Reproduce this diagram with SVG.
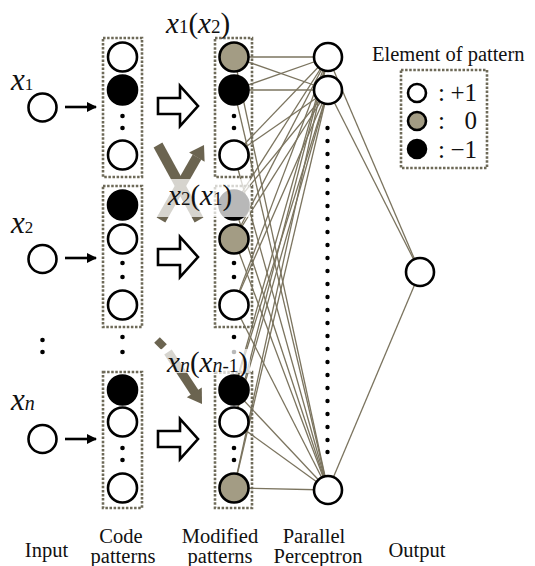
<svg xmlns="http://www.w3.org/2000/svg" width="535" height="566" viewBox="0 0 535 566">
<style>
text{font-family:"Liberation Serif","Times New Roman",serif;fill:#111}
.lbl{font-size:20.5px}
.it{font-style:italic}
.n{stroke:#000;stroke-width:2.6}
.w{fill:#fff}
.b{fill:#000}
.g{fill:#a39c84}
.box{fill:none;stroke:#6e6a58;stroke-width:2.6;stroke-dasharray:2.5 1.6}
.dot{fill:#000}
.conn line{stroke:#7b745f;stroke-width:1.3}
.harrow{fill:#fff;stroke:#000;stroke-width:2.6;stroke-linejoin:miter}
.swap{stroke:#6b6450;fill:none}
.veil{fill:#fff;fill-opacity:0.72}
</style>
<defs>
<marker id="ah" markerWidth="10" markerHeight="10" refX="9" refY="5" orient="auto" markerUnits="userSpaceOnUse"><path d="M0,0 L10,5 L0,10 z" fill="#000"/></marker>
<polygon id="hollow" points="0,-8 22,-8 22,-20 40,0 22,20 22,8 0,8" class="harrow"/>
</defs>

<!-- connectors -->
<g id="connectors" class="conn">
<line x1="234" y1="57" x2="328" y2="57"/><line x1="234" y1="57" x2="328" y2="90"/><line x1="234" y1="57" x2="328" y2="490"/>
<line x1="234" y1="90" x2="328" y2="57"/><line x1="234" y1="90" x2="328" y2="90"/><line x1="234" y1="90" x2="328" y2="490"/>
<line x1="234" y1="155" x2="328" y2="57"/><line x1="234" y1="155" x2="328" y2="90"/><line x1="234" y1="155" x2="328" y2="490"/>
<line x1="234" y1="205" x2="328" y2="57"/><line x1="234" y1="205" x2="328" y2="90"/><line x1="234" y1="205" x2="328" y2="490"/>
<line x1="234" y1="239" x2="328" y2="57"/><line x1="234" y1="239" x2="328" y2="90"/><line x1="234" y1="239" x2="328" y2="490"/>
<line x1="234" y1="305" x2="328" y2="57"/><line x1="234" y1="305" x2="328" y2="90"/><line x1="234" y1="305" x2="328" y2="490"/>
<line x1="234" y1="390" x2="328" y2="57"/><line x1="234" y1="390" x2="328" y2="90"/><line x1="234" y1="390" x2="328" y2="490"/>
<line x1="234" y1="422" x2="328" y2="57"/><line x1="234" y1="422" x2="328" y2="90"/><line x1="234" y1="422" x2="328" y2="490"/>
<line x1="234" y1="488" x2="328" y2="57"/><line x1="234" y1="488" x2="328" y2="90"/><line x1="234" y1="488" x2="328" y2="490"/>
<line x1="328" y1="57" x2="420" y2="272"/><line x1="328" y1="90" x2="420" y2="272"/><line x1="328" y1="490" x2="420" y2="272"/>
<!-- input arrows -->
<line x1="65" y1="107" x2="96" y2="107" style="stroke:#000;stroke-width:2.6" marker-end="url(#ah)"/>
<line x1="65" y1="258" x2="96" y2="258" style="stroke:#000;stroke-width:2.6" marker-end="url(#ah)"/>
<line x1="65" y1="439" x2="96" y2="439" style="stroke:#000;stroke-width:2.6" marker-end="url(#ah)"/>
</g>

<!-- inputs -->
<g id="input1"><circle cx="42.5" cy="107.5" r="14" class="n w"/><text x="11" y="90" font-size="31" class="it">x<tspan font-size="17" font-style="normal">1</tspan></text></g>
<g id="input2"><circle cx="42.5" cy="259" r="14" class="n w"/><text x="11" y="233" font-size="31" class="it">x<tspan font-size="17" font-style="normal">2</tspan></text></g>
<g id="inputn"><circle cx="42.5" cy="439" r="14" class="n w"/><text x="11" y="410" font-size="31" class="it">x<tspan font-size="20">n</tspan></text></g>
<g id="inputdots"><circle cx="42.5" cy="340" r="2.3" class="dot"/><circle cx="42.5" cy="352" r="2.3" class="dot"/></g>

<!-- code patterns -->
<g id="code1"><rect x="103" y="38" width="39" height="139" class="box"/>
<circle cx="122.5" cy="57" r="14.5" class="n w"/><circle cx="122.5" cy="90" r="14.5" class="n b"/>
<circle cx="122.5" cy="116" r="2.3" class="dot"/><circle cx="122.5" cy="128" r="2.3" class="dot"/>
<circle cx="122.5" cy="155" r="14.5" class="n w"/></g>
<g id="code2"><rect x="103" y="186" width="39" height="141" class="box"/>
<circle cx="122.5" cy="205" r="14.5" class="n b"/><circle cx="122.5" cy="239" r="14.5" class="n w"/>
<circle cx="122.5" cy="263" r="2.3" class="dot"/><circle cx="122.5" cy="277" r="2.3" class="dot"/>
<circle cx="122.5" cy="305" r="14.5" class="n w"/></g>
<g id="codedots"><circle cx="122.5" cy="337" r="2.3" class="dot"/><circle cx="122.5" cy="352" r="2.3" class="dot"/></g>
<g id="code3"><rect x="103" y="372" width="39" height="136" class="box"/>
<circle cx="122.5" cy="390" r="14.5" class="n b"/><circle cx="122.5" cy="422" r="14.5" class="n w"/>
<circle cx="122.5" cy="448" r="2.3" class="dot"/><circle cx="122.5" cy="460" r="2.3" class="dot"/>
<circle cx="122.5" cy="488" r="14.5" class="n w"/></g>

<!-- hollow arrows -->
<g id="harrows"><use href="#hollow" x="158" y="106"/><use href="#hollow" x="158" y="257"/><use href="#hollow" x="158" y="439"/></g>

<!-- modified patterns -->
<g id="mod1"><rect x="215" y="38" width="37" height="139" class="box"/>
<circle cx="234" cy="57" r="14.5" class="n g"/><circle cx="234" cy="90" r="14.5" class="n b"/>
<circle cx="234" cy="116" r="2.3" class="dot"/><circle cx="234" cy="128" r="2.3" class="dot"/>
<circle cx="234" cy="155" r="14.5" class="n w"/></g>
<g id="mod2"><rect x="215" y="186" width="37" height="141" class="box"/>
<circle cx="234" cy="205" r="14.5" class="n b"/><circle cx="234" cy="239" r="14.5" class="n g"/>
<circle cx="234" cy="263" r="2.3" class="dot"/><circle cx="234" cy="277" r="2.3" class="dot"/>
<circle cx="234" cy="305" r="14.5" class="n w"/></g>
<g id="moddots"><circle cx="234" cy="337" r="2.3" class="dot"/><circle cx="234" cy="352" r="2.3" class="dot"/></g>
<g id="mod3"><rect x="215" y="372" width="37" height="136" class="box"/>
<circle cx="234" cy="390" r="14.5" class="n b"/><circle cx="234" cy="422" r="14.5" class="n w"/>
<circle cx="234" cy="448" r="2.3" class="dot"/><circle cx="234" cy="460" r="2.3" class="dot"/>
<circle cx="234" cy="488" r="14.5" class="n g"/></g>

<!-- swap arrows -->
<g id="swap12">
<line x1="158" y1="145" x2="199" y2="220" class="swap" stroke-width="10"/>
<line x1="161" y1="220" x2="197" y2="157" class="swap" stroke-width="10"/>
<polygon points="204,145 204.6,161.7 189.1,152.5" fill="#6b6450"/>
<rect x="150" y="179" width="100" height="38" class="veil"/>
<text x="168" y="205" font-size="29"><tspan class="it">x</tspan><tspan font-size="19">2</tspan>(<tspan class="it">x</tspan><tspan font-size="19">1</tspan>)</text>
</g>
<g id="swapn">
<line x1="157" y1="340" x2="164" y2="347" class="swap" stroke-width="8"/>
<line x1="168" y1="352" x2="195" y2="393" class="swap" stroke-width="9"/>
<polygon points="202,404 201.8,387.4 186.8,397.2" fill="#6b6450"/>
<rect x="150" y="349" width="100" height="24" class="veil"/>
<text x="167" y="372" font-size="29"><tspan class="it">x</tspan><tspan font-size="20" class="it">n</tspan>(<tspan class="it">x</tspan><tspan font-size="20" class="it">n</tspan><tspan font-size="19">-1</tspan>)</text>
</g>
<g id="toplabel"><text x="166" y="33" font-size="29"><tspan class="it">x</tspan><tspan font-size="19">1</tspan>(<tspan class="it">x</tspan><tspan font-size="19">2</tspan>)</text></g>

<!-- perceptron -->
<g id="perc1"><circle cx="328" cy="57" r="14" class="n w"/></g>
<g id="perc2"><circle cx="328" cy="90" r="14" class="n w"/></g>
<g id="percn"><circle cx="328" cy="490" r="14" class="n w"/></g>
<g id="percdots" class="dot">
<circle cx="327.5" cy="128" r="2.2"/><circle cx="327.5" cy="141" r="2.2"/><circle cx="327.5" cy="154" r="2.2"/><circle cx="327.5" cy="167" r="2.2"/><circle cx="327.5" cy="180" r="2.2"/><circle cx="327.5" cy="193" r="2.2"/><circle cx="327.5" cy="206" r="2.2"/><circle cx="327.5" cy="219" r="2.2"/><circle cx="327.5" cy="232" r="2.2"/><circle cx="327.5" cy="245" r="2.2"/><circle cx="327.5" cy="258" r="2.2"/><circle cx="327.5" cy="271" r="2.2"/><circle cx="327.5" cy="284" r="2.2"/><circle cx="327.5" cy="297" r="2.2"/><circle cx="327.5" cy="310" r="2.2"/><circle cx="327.5" cy="323" r="2.2"/><circle cx="327.5" cy="336" r="2.2"/><circle cx="327.5" cy="349" r="2.2"/><circle cx="327.5" cy="362" r="2.2"/><circle cx="327.5" cy="375" r="2.2"/><circle cx="327.5" cy="388" r="2.2"/><circle cx="327.5" cy="401" r="2.2"/><circle cx="327.5" cy="414" r="2.2"/><circle cx="327.5" cy="427" r="2.2"/><circle cx="327.5" cy="440" r="2.2"/><circle cx="327.5" cy="452" r="2.2"/>
</g>

<!-- output -->
<g id="output"><circle cx="420" cy="272" r="14" class="n w"/></g>

<!-- legend -->
<g id="legend">
<text x="372" y="61" class="lbl">Element of pattern</text>
<rect x="401" y="70" width="86" height="98" class="box"/>
<circle cx="417" cy="93" r="9" class="n w"/><circle cx="417" cy="121" r="9" class="n g"/><circle cx="417" cy="149" r="9" class="n b"/>
<text x="438" y="101" font-size="25">:</text><text x="477" y="101" font-size="25" text-anchor="end">+1</text>
<text x="438" y="129" font-size="25">:</text><text x="477" y="129" font-size="25" text-anchor="end">0</text>
<text x="438" y="158" font-size="25">:</text><text x="477" y="158" font-size="25" text-anchor="end">−1</text>
</g>

<!-- column labels -->
<g id="labels" class="lbl">
<text x="46.5" y="557" text-anchor="middle">Input</text>
<text x="121" y="543" text-anchor="middle">Code</text>
<text x="123" y="563" text-anchor="middle">patterns</text>
<text x="220" y="543" text-anchor="middle">Modified</text>
<text x="220" y="563" text-anchor="middle">patterns</text>
<text x="314" y="543" text-anchor="middle">Parallel</text>
<text x="318" y="563" text-anchor="middle">Perceptron</text>
<text x="417" y="557" text-anchor="middle">Output</text>
</g>
</svg>
